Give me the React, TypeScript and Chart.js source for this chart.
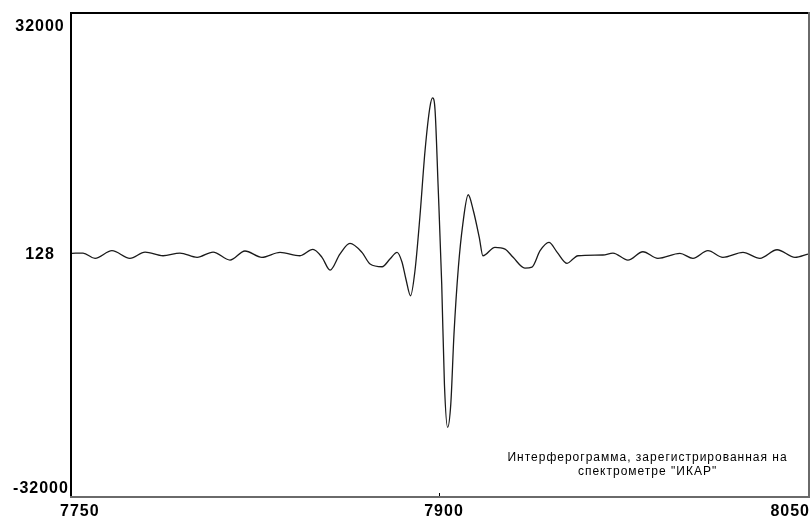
import React, { useEffect, useRef } from "react";
import { Chart, registerables } from "chart.js";

Chart.register(...registerables);

// Sample positions (wavenumber / sample index axis)
const xValues: number[] = [
  7750, 7754.5, 7759.4, 7766.3, 7773.6, 7779.8, 7787.1, 7794, 7801, 7807.5,
  7814.4, 7820.5, 7827.4, 7834.8, 7842.9, 7848.2, 7851.9, 7855.2, 7859.2, 7863.3,
  7868.2, 7871.5, 7876.4, 7879.6, 7882.5, 7884.5, 7886.1, 7888, 7889.8, 7891.8,
  7893.9, 7895.9, 7897, 7898, 7899.2, 7900.7, 7901.8, 7903.1, 7904.4, 7905.7,
  7907.5, 7909.3, 7911.5, 7913.6, 7916, 7917.5, 7922.4, 7926.5, 7929.8, 7934.6,
  7937.5, 7940.8, 7944.4, 7947.7, 7951.8, 7954.2, 7956.2, 7966.4, 7970.5, 7976.6,
  7982.7, 7988.8, 7997.8, 8003.1, 8009.2, 8015.3, 8023.5, 8030.4, 8037.4, 8044.7,
  8050,
];

// Interferogram amplitude
const yValues: number[] = [
  220, 260, -440, 570, -440, 390, -100, 260, -310, 390,
  -670, 530, -310, 350, -100, 750, -310, -2000, 130, 1550,
  350, -1200, -1560, -540, 350, -930, -3190, -5410, -2090, 5040,
  13850, 19650, 20850, 19160, 9420, -3860, -17140, -22890, -19790, -10500,
  -1600, 4110, 8000, 5880, 2350, -100, 1020, 790, -310, -1730,
  -1600, 570, 1680, 390, -1110, -540, -100, 0, 260, -670,
  430, -440, 220, -440, 570, -310, 350, -440, 700, -310,
  130,
];

const xTickValues: number[] = [7750, 7900, 8050];
const yTickValues: number[] = [-32000, 128, 32000];
const noteLines: string[] = [
  "Интерферограмма, зарегистрированная на",
  "спектрометре \"ИКАР\"",
];

const X_MIN = 7750;
const X_MAX = 8050;
const Y_MIN = -32000;
const Y_MAX = 32000;

export default function App() {
  const canvasRef = useRef<HTMLCanvasElement | null>(null);

  useEffect(() => {
    const canvas = canvasRef.current;
    if (!canvas) return;

    const framePlugin = {
      id: "framePlugin",
      afterDatasetsDraw(chart: any) {
        const { ctx, chartArea, scales } = chart;
        const { left, top, right, bottom } = chartArea;
        const xs = scales.x;
        const ys = scales.y;
        ctx.save();
        // frame
        ctx.fillStyle = "#000000";
        ctx.fillRect(left - 2, top - 2, right - left + 2, 2);
        ctx.fillRect(left - 2, top - 2, 2, bottom - top + 2);
        ctx.fillStyle = "#6a6a6a";
        ctx.fillRect(left - 2, bottom, right - left + 4, 2);
        ctx.fillRect(right, top - 2, 2, bottom - top + 4);

        // inner tick marks for middle x tick
        ctx.fillStyle = "#000000";
        for (let i = 1; i < xTickValues.length - 1; i++) {
          const px = Math.round(xs.getPixelForValue(xTickValues[i]));
          ctx.fillRect(px - 1, bottom - 3, 1, 3);
        }

        // tick labels
        ctx.font = "bold 16px 'Liberation Sans', Arial, sans-serif";
        (ctx as any).letterSpacing = "1px";
        ctx.fillStyle = "#000000";
        const yLabelX = left - 32;
        yTickValues.forEach((v, i) => {
          const py = ys.getPixelForValue(v);
          ctx.textAlign = "center";
          if (i === yTickValues.length - 1) {
            ctx.textBaseline = "top";
            ctx.fillText(String(v), yLabelX, top + 5);
          } else if (i === 0) {
            ctx.textBaseline = "bottom";
            ctx.fillText(String(v), yLabelX + 1, bottom + 1);
          } else {
            ctx.textBaseline = "middle";
            ctx.fillText(String(v), yLabelX, py + 1);
          }
        });
        const W = chart.width;
        xTickValues.forEach((v) => {
          const label = String(v);
          const w = ctx.measureText(label).width;
          let cx = xs.getPixelForValue(v) + 4;
          if (cx - w / 2 < left - 12) cx = left - 12 + w / 2;
          if (cx + w / 2 > W) cx = W - w / 2;
          ctx.textAlign = "center";
          ctx.textBaseline = "top";
          ctx.fillText(label, cx, bottom + 8);
        });

        // note text
        ctx.font = "12px 'Liberation Sans', Arial, sans-serif";
        (ctx as any).letterSpacing = "1px";
        ctx.textAlign = "center";
        ctx.textBaseline = "middle";
        const noteX = left + (right - left) * 0.782;
        noteLines.forEach((t, i) => {
          ctx.fillText(t, noteX, bottom - 38 + i * 14);
        });
        ctx.restore();
      },
    };

    const chart = new Chart(canvas, {
      type: "line",
      data: {
        datasets: [
          {
            data: xValues.map((x, i) => ({ x, y: yValues[i] })),
            borderColor: "#1a1a1a",
            borderWidth: 1.3,
            pointRadius: 0,
            fill: false,
            cubicInterpolationMode: "monotone",
          },
        ],
      },
      options: {
        animation: false,
        responsive: false,
        devicePixelRatio: 1,
        layout: { padding: { left: 72, top: 14, right: 2, bottom: 21 } },
        plugins: {
          legend: { display: false },
          tooltip: { enabled: false },
        },
        scales: {
          x: { type: "linear", min: X_MIN, max: X_MAX, display: false },
          y: { type: "linear", min: Y_MIN, max: Y_MAX, display: false },
        },
      },
      plugins: [framePlugin],
    });

    return () => {
      chart.destroy();
    };
  }, []);

  return (
    <div
      style={{
        position: "fixed",
        left: 0,
        top: 0,
        width: 810,
        height: 517,
        background: "#ffffff",
      }}
    >
      <canvas ref={canvasRef} width={810} height={517} />
    </div>
  );
}
